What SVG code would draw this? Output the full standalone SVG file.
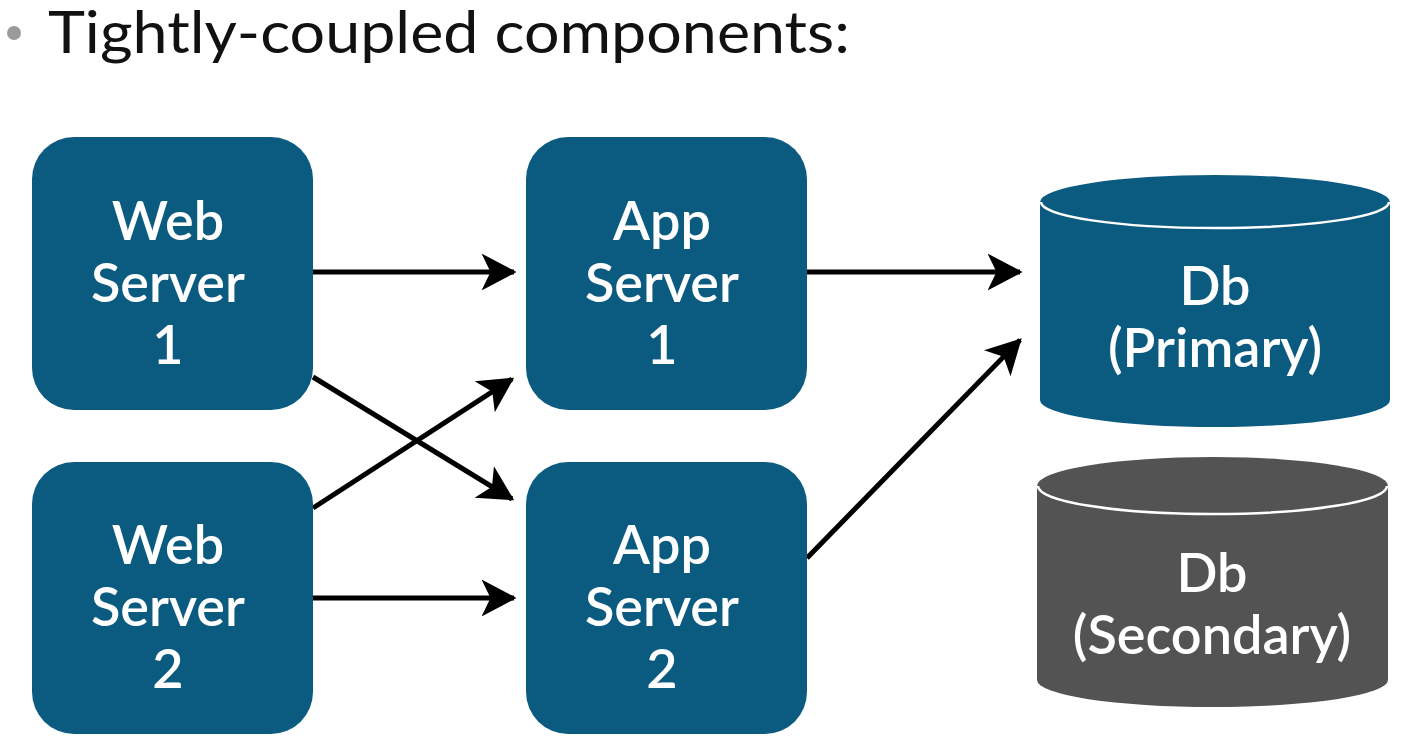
<svg xmlns="http://www.w3.org/2000/svg" width="1404" height="754" viewBox="0 0 1404 754">
<defs>
<style>
.box{fill:#0b5b81}
.db{fill:#0b5b81}
.db2{fill:#535353}
.rim{fill:none;stroke:#ffffff;stroke-width:2.5}
.lbl{font-family:Lato,"Open Sans",sans-serif;font-size:54px;font-weight:600;fill:#ffffff;text-anchor:middle}
.title{font-family:Lato,"Open Sans",sans-serif;font-size:58px;fill:#111111}
.conn{stroke:#000000;stroke-width:5;fill:none;marker-end:url(#arr)}
</style>
<marker id="arr" markerWidth="8" markerHeight="8" refX="6.5" refY="4" orient="auto" markerUnits="strokeWidth">
<path d="M0,0.3 L7,4 L0,7.7 L1.8,4 Z" fill="#000000"/>
</marker>
</defs>
<rect width="1404" height="754" fill="#ffffff"/>
<g id="title">
<circle cx="14" cy="33" r="7" fill="#9a9a9a"/>
<text class="title" x="48" y="53" textLength="802" lengthAdjust="spacingAndGlyphs">Tightly-coupled components:</text>
</g>
<g id="connectors">
<line class="conn" x1="313" y1="272" x2="514" y2="272"/>
<line class="conn" x1="313" y1="377" x2="512" y2="499"/>
<line class="conn" x1="313" y1="508" x2="512" y2="379"/>
<line class="conn" x1="313" y1="598" x2="514" y2="598"/>
<line class="conn" x1="807" y1="272" x2="1020" y2="272"/>
<line class="conn" x1="807" y1="558" x2="1020" y2="340"/>
</g>
<g id="web1">
<rect class="box" x="32" y="137" width="281" height="273" rx="42"/>
<text class="lbl" x="168" y="240">Web</text>
<text class="lbl" x="168" y="302">Server</text>
<text class="lbl" x="168" y="364">1</text>
</g>
<g id="web2">
<rect class="box" x="32" y="462" width="281" height="272" rx="42"/>
<text class="lbl" x="168" y="564">Web</text>
<text class="lbl" x="168" y="626">Server</text>
<text class="lbl" x="168" y="688">2</text>
</g>
<g id="app1">
<rect class="box" x="526" y="137" width="281" height="273" rx="42"/>
<text class="lbl" x="662" y="240">App</text>
<text class="lbl" x="662" y="302">Server</text>
<text class="lbl" x="662" y="364">1</text>
</g>
<g id="app2">
<rect class="box" x="526" y="462" width="281" height="272" rx="42"/>
<text class="lbl" x="662" y="564">App</text>
<text class="lbl" x="662" y="626">Server</text>
<text class="lbl" x="662" y="688">2</text>
</g>
<g id="dbPrimary">
<path class="db" d="M1040,202 A175,27 0 0 1 1390,202 L1390,400 A175,27 0 0 1 1040,400 Z"/>
<path class="rim" d="M1041,202 A174,26 0 0 0 1389,202"/>
<text class="lbl" x="1215" y="305">Db</text>
<text class="lbl" x="1215" y="367">(Primary)</text>
</g>
<g id="dbSecondary">
<path class="db2" d="M1037,486 A175,29 0 0 1 1388,486 L1388,680 A175,27 0 0 1 1037,680 Z"/>
<path class="rim" d="M1038,486 A174,28 0 0 0 1387,486"/>
<text class="lbl" x="1212" y="592">Db</text>
<text class="lbl" x="1212" y="654">(Secondary)</text>
</g>
</svg>
